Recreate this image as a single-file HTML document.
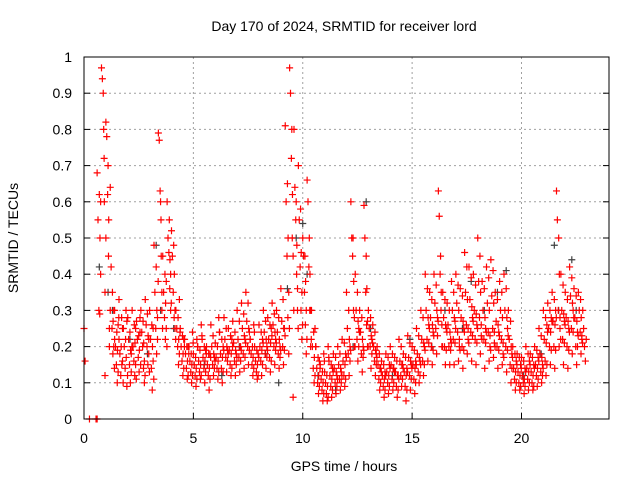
<!DOCTYPE html>
<html><head><meta charset="utf-8"><style>
html,body{margin:0;padding:0;background:#fff}
svg{display:block;font-family:"Liberation Sans",sans-serif}
</style></head><body>
<svg id="chart" width="640" height="480" viewBox="0 0 640 480">
<g id="grid"></g>
<g id="pts"></g>
<rect x="84" y="57" width="525" height="362" fill="none" stroke="#000" stroke-width="1"/>
<g id="ticks"></g>
<text x="344" y="31" text-anchor="middle" font-size="14">Day 170 of 2024, SRMTID for receiver lord</text>
<text x="344" y="471" text-anchor="middle" font-size="14">GPS time / hours</text>
<text transform="translate(18,238) rotate(-90)" text-anchor="middle" font-size="14">SRMTID / TECUs</text>
</svg>
<script>
const xTicks=[0,5,10,15,20];
const yTicks=[0,0.1,0.2,0.3,0.4,0.5,0.6,0.7,0.8,0.9,1];
const yTickLabels=["0","0.1","0.2","0.3","0.4","0.5","0.6","0.7","0.8","0.9","1"];
const binHours=[0.6,0.8,1.0,1.2,1.4,1.6,1.8,2.0,2.2,2.4,2.6,2.8,3.0,3.2,3.4,3.6,3.8,4.0,4.2,4.4,4.6,4.8,5.0,5.2,5.4,5.6,5.8,6.0,6.2,6.4,6.6,6.8,7.0,7.2,7.4,7.6,7.8,8.0,8.2,8.4,8.6,8.8,9.0,9.2,9.4,9.6,9.8,10.0,10.2,10.4,10.6,10.8,11.0,11.2,11.4,11.6,11.8,12.0,12.2,12.4,12.6,12.8,13.0,13.2,13.4,13.6,13.8,14.0,14.2,14.4,14.6,14.8,15.0,15.2,15.4,15.6,15.8,16.0,16.2,16.4,16.6,16.8,17.0,17.2,17.4,17.6,17.8,18.0,18.2,18.4,18.6,18.8,19.0,19.2,19.4,19.6,19.8,20.0,20.2,20.4,20.6,20.8,21.0,21.2,21.4,21.6,21.8,22.0,22.2,22.4,22.6,22.8];
const binValues=[[.68,.55,.3,.29,.6],[.97,.94,.9,.72,.12,.5],[.82,.78,.62,.45,.2,.3],[.64,.42,.25,.18,.3,.22],[.3,.2,.15,.1,.26,.33],[.22,.18,.12,.28,.16],[.25,.2,.14,.3,.09],[.28,.22,.15,.1,.18],[.3,.2,.16,.12,.25],[.27,.22,.17,.13,.24],[.3,.24,.2,.14,.1],[.33,.26,.2,.15,.22],[.3,.22,.14,.08,.25],[.48,.35,.25,.18,.28],[.79,.77,.63,.55,.3],[.45,.35,.28,.22,.38],[.6,.5,.46,.36,.3],[.52,.45,.35,.28,.25],[.3,.25,.2,.15,.33],[.25,.2,.16,.12,.22],[.22,.18,.14,.11,.2],[.2,.16,.13,.1,.24],[.18,.15,.12,.09,.22],[.2,.16,.13,.11,.26],[.22,.17,.14,.1,.19],[.2,.15,.12,.08,.18],[.26,.2,.15,.12,.17],[.21,.17,.14,.11,.28],[.24,.18,.14,.1,.2],[.28,.22,.17,.13,.19],[.25,.19,.15,.12,.22],[.27,.21,.16,.12,.18],[.3,.22,.17,.13,.2],[.32,.25,.18,.14,.22],[.35,.27,.2,.15,.24],[.22,.18,.15,.12,.26],[.2,.16,.13,.11,.18],[.26,.2,.16,.12,.22],[.3,.24,.18,.14,.2],[.28,.22,.17,.13,.25],[.32,.26,.2,.15,.22],[.3,.24,.18,.14,.2],[.36,.27,.2,.15,.25],[.81,.6,.45,.28,.18],[.97,.9,.72,.5,.06],[.8,.64,.55,.4,.3],[.7,.55,.42,.3,.22],[.5,.45,.35,.26,.18],[.66,.6,.42,.3,.2],[.3,.2,.14,.1,.25],[.2,.14,.1,.07,.16],[.15,.11,.08,.05,.18],[.13,.1,.07,.05,.2],[.16,.12,.09,.06,.14],[.18,.14,.1,.07,.12],[.2,.15,.11,.08,.13],[.22,.16,.12,.09,.18],[.35,.25,.18,.12,.2],[.6,.5,.45,.3,.2],[.4,.3,.22,.16,.25],[.3,.24,.18,.13,.2],[.59,.5,.35,.26,.2],[.3,.25,.2,.14,.22],[.26,.2,.16,.12,.18],[.2,.15,.11,.08,.14],[.16,.12,.09,.06,.13],[.18,.13,.1,.07,.15],[.2,.15,.11,.08,.14],[.17,.13,.09,.06,.12],[.22,.16,.12,.09,.15],[.18,.13,.09,.05,.14],[.23,.17,.12,.08,.15],[.2,.15,.11,.07,.16],[.25,.18,.13,.1,.16],[.3,.22,.16,.12,.2],[.4,.3,.22,.16,.26],[.35,.28,.2,.15,.24],[.4,.32,.25,.18,.28],[.63,.56,.4,.3,.2],[.35,.28,.2,.15,.25],[.32,.26,.2,.15,.22],[.38,.3,.22,.15,.27],[.4,.32,.24,.16,.2],[.36,.28,.2,.14,.25],[.46,.35,.26,.18,.22],[.42,.33,.24,.16,.28],[.4,.3,.22,.15,.26],[.5,.38,.28,.18,.23],[.38,.3,.22,.14,.25],[.42,.32,.24,.16,.2],[.44,.34,.25,.17,.21],[.35,.27,.2,.14,.24],[.38,.3,.22,.15,.18],[.4,.3,.2,.13,.25],[.3,.22,.15,.1,.18],[.2,.14,.11,.08,.16],[.18,.13,.1,.08,.15],[.17,.12,.1,.07,.14],[.2,.14,.11,.08,.16],[.18,.13,.1,.08,.15],[.2,.15,.12,.09,.17],[.25,.18,.13,.1,.15],[.3,.22,.16,.12,.26],[.32,.25,.2,.15,.28],[.35,.27,.2,.14,.3],[.63,.55,.3,.2,.25],[.4,.3,.22,.15,.27],[.35,.28,.2,.14,.25],[.42,.34,.25,.18,.3],[.36,.28,.2,.15,.24],[.35,.3,.24,.18,.22],[.3,.25,.2,.16,.22]];
const binHoursB=[0.7,0.9,1.1,1.3,1.5,1.7,1.9,2.1,2.3,2.5,2.7,2.9,3.1,3.3,3.5,3.7,3.9,4.1,4.3,4.5,4.7,4.9,5.1,5.3,5.5,5.7,5.9,6.1,6.3,6.5,6.7,6.9,7.1,7.3,7.5,7.7,7.9,8.1,8.3,8.5,8.7,8.9,9.1,9.3,9.5,9.7,9.9,10.1,10.3,10.5,10.7,10.9,11.1,11.3,11.5,11.7,11.9,12.1,12.3,12.5,12.7,12.9,13.1,13.3,13.5,13.7,13.9,14.1,14.3,14.5,14.7,14.9,15.1,15.3,15.5,15.7,15.9,16.1,16.3,16.5,16.7,16.9,17.1,17.3,17.5,17.7,17.9,18.1,18.3,18.5,18.7,18.9,19.1,19.3,19.5,19.7,19.9,20.1,20.3,20.5,20.7,20.9,21.1,21.3,21.5,21.7,21.9,22.1,22.3,22.5,22.7];
const binValuesB=[[.62,.5,.4],[.8,.6,.35],[.7,.55,.25],[.35,.27,.2,.14],[.24,.19,.13,.28],[.2,.15,.25,.1],[.22,.17,.27,.12],[.24,.19,.13,.2],[.26,.21,.15,.11],[.23,.19,.28,.15],[.27,.21,.16,.12],[.29,.23,.18,.13],[.26,.2,.16,.11],[.42,.3,.22,.38],[.6,.45,.35,.25],[.4,.32,.25,.2],[.55,.44,.4,.32],[.48,.4,.3,.22],[.28,.22,.18,.24],[.23,.18,.14,.2],[.2,.16,.12,.18],[.18,.15,.12,.21],[.17,.14,.11,.2],[.19,.15,.12,.23],[.2,.16,.13,.18],[.18,.14,.11,.17],[.23,.18,.14,.16],[.2,.16,.13,.24],[.22,.17,.13,.19],[.25,.2,.16,.18],[.23,.18,.14,.2],[.24,.19,.15,.17],[.27,.2,.16,.19],[.29,.23,.17,.21],[.32,.25,.19,.22],[.2,.17,.14,.24],[.19,.15,.12,.17],[.24,.19,.15,.21],[.27,.22,.17,.19],[.26,.21,.16,.23],[.29,.24,.19,.21],[.28,.22,.17,.19],[.33,.25,.19,.23],[.65,.5,.35,.25],[.8,.62,.45,.3],[.6,.48,.36,.25],[.58,.46,.35,.26],[.45,.38,.3,.22],[.5,.4,.3,.22],[.24,.17,.12,.2],[.17,.12,.09,.14],[.13,.1,.07,.16],[.12,.09,.06,.17],[.15,.11,.08,.13],[.17,.13,.09,.11],[.18,.14,.1,.12],[.21,.15,.11,.17],[.3,.22,.16,.19],[.5,.38,.28,.2],[.35,.27,.2,.24],[.28,.22,.17,.19],[.45,.36,.27,.2],[.28,.23,.18,.21],[.24,.19,.15,.17],[.18,.14,.1,.13],[.15,.11,.08,.12],[.17,.12,.09,.14],[.18,.14,.1,.13],[.16,.12,.08,.11],[.2,.15,.11,.14],[.17,.12,.08,.13],[.21,.16,.11,.14],[.19,.14,.1,.15],[.23,.17,.12,.15],[.28,.21,.15,.19],[.36,.28,.21,.25],[.33,.26,.19,.23],[.37,.3,.23,.27],[.45,.35,.26,.2],[.33,.26,.19,.24],[.3,.24,.19,.21],[.35,.28,.21,.25],[.37,.3,.22,.19],[.34,.27,.19,.24],[.42,.33,.25,.21],[.39,.31,.23,.27],[.37,.29,.21,.25],[.45,.35,.26,.22],[.36,.28,.21,.24],[.39,.3,.23,.19],[.41,.32,.24,.2],[.33,.26,.19,.23],[.35,.28,.21,.17],[.36,.28,.19,.23],[.27,.2,.14,.17],[.18,.13,.1,.15],[.17,.12,.09,.14],[.16,.11,.09,.13],[.18,.13,.1,.15],[.17,.12,.09,.14],[.19,.14,.11,.16],[.23,.17,.12,.14],[.28,.21,.15,.24],[.3,.24,.19,.27],[.33,.26,.19,.28],[.5,.4,.28,.22],[.37,.29,.21,.26],[.33,.27,.19,.24],[.39,.32,.24,.28],[.34,.27,.2,.23],[.33,.28,.23,.21]];
const extraRedT=[0,0.05,0.25,0.55,0.6];
const extraRedV=[0.25,0.16,0,0,0];
const grayT=[0.7,1.1,1.3,2.1,2.9,3.3,3.5,4.1,5.5,6.3,7.1,8.3,8.9,9.3,9.7,10.0,10.2,10.7,11.5,12.3,12.9,13.1,14.1,14.9,15.9,16.5,17.3,17.7,18.3,18.9,19.3,20.1,20.9,21.5,21.7,22.3,22.5];
const grayV=[0.42,0.35,0.3,0.22,0.18,0.48,0.3,0.25,0.15,0.12,0.2,0.18,0.1,0.36,0.5,0.54,0.4,0.12,0.08,0.2,0.6,0.25,0.12,0.22,0.2,0.3,0.25,0.38,0.3,0.35,0.41,0.12,0.18,0.48,0.3,0.44,0.3];
const NS='http://www.w3.org/2000/svg';
const X=h=>84+h*(525/24), Y=v=>419-v*362;
const grid=document.getElementById('grid'),ticks=document.getElementById('ticks'),pts=document.getElementById('pts');
function mk(tag,at,parent){const e=document.createElementNS(NS,tag);for(const k in at)e.setAttribute(k,at[k]);parent.appendChild(e);return e;}
yTicks.forEach((v,i)=>{
  if(i>0&&i<yTicks.length-1){const g=mk('line',{x1:84,x2:609,y1:Y(v),y2:Y(v),stroke:'#a0a0a0','stroke-dasharray':'2,3'},grid);
  
  }
  const t=mk('line',{x1:84,x2:90,y1:Y(v),y2:Y(v),stroke:'#000'},ticks);
  
  
  const t2=mk('line',{x1:603,x2:609,y1:Y(v),y2:Y(v),stroke:'#000'},ticks);
  
  
  const l=mk('text',{x:72,y:Y(v)+5,'text-anchor':'end','font-size':14},ticks);l.textContent=yTickLabels[i];
  
  
});
xTicks.forEach(h=>{
  if(h>0){const g=mk('line',{x1:X(h),x2:X(h),y1:57,y2:419,stroke:'#a0a0a0','stroke-dasharray':'2,3'},grid);
  
  }
  const t=mk('line',{x1:X(h),x2:X(h),y1:413,y2:419,stroke:'#000'},ticks);
  
  
  const l=mk('text',{x:X(h),y:443,'text-anchor':'middle','font-size':14},ticks);l.textContent=String(h);
  
  
});
function plus(h,v,c,name){
  const x=X(h),y=Y(v);
  const p=mk('path',{d:`M${x-3.5},${y}H${x+3.5}M${x},${y-3.5}V${y+3.5}`,stroke:c,'stroke-width':1.2,fill:'none'},pts);
  
  
}
grayT.forEach((h,i)=>plus(h,grayV[i],'#404040','gray-point'));
binHours.forEach((h,i)=>binValues[i].forEach((v,j)=>plus(h+j*0.04,v,'#ff0000','red-point')));
binHoursB.forEach((h,i)=>binValuesB[i].forEach((v,j)=>plus(h+j*0.03,v,'#ff0000','red-point')));
extraRedT.forEach((h,i)=>plus(h,extraRedV[i],'#ff0000','red-point'));
</script>
</body></html>
